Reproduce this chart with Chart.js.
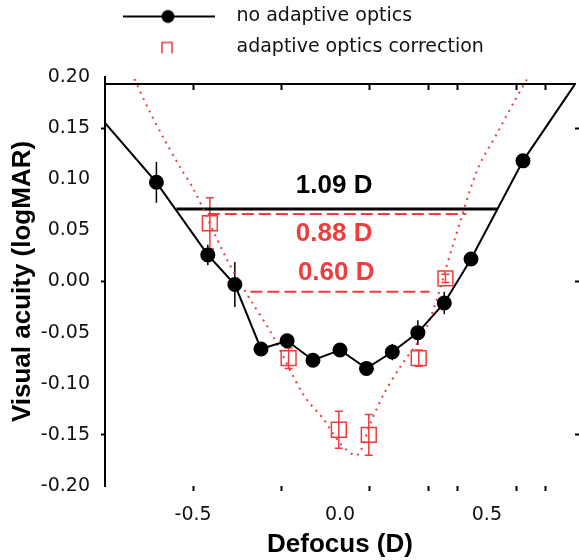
<!DOCTYPE html>
<html>
<head>
<meta charset="utf-8">
<script src="https://cdn.jsdelivr.net/npm/chart.js@4.4.1/dist/chart.umd.min.js"></script>
<style>
  html, body { margin: 0; padding: 0; background: #fff; }
  #wrap { width: 579px; height: 560px; }
</style>
</head>
<body>
<div id="wrap"><canvas id="acuity-chart"></canvas></div>
<script>
// no adaptive optics (line ends have no marker)
const noAoDefocus = [-0.8, -0.625, -0.45, -0.358, -0.269, -0.18, -0.092, 0.0, 0.09, 0.178, 0.265, 0.355, 0.446, 0.623, 0.8];
const noAoAcuity  = [0.155, 0.097, 0.026, -0.003, -0.066, -0.058, -0.077, -0.067, -0.085, -0.069, -0.050, -0.021, 0.022, 0.118, 0.193];
const noAoError   = [0, 0.020, 0.010, 0.022, 0.005, 0.005, 0.005, 0.005, 0.005, 0.008, 0.012, 0.011, 0.005, 0.005, 0];

// adaptive optics correction
const aoDefocus = [-0.443, -0.175, -0.004, 0.098, 0.268, 0.359];
const aoAcuity  = [0.057, -0.075, -0.145, -0.150, -0.075, 0.003];
const aoError   = [0.025, 0.010, 0.018, 0.020, 0.008, 0.004];

// dotted fit through the corrected data
const aoFitDefocus = [-0.70, -0.651, -0.60, -0.543, -0.498, -0.384, -0.305, -0.237, -0.124, -0.055, 0.0, 0.058, 0.103, 0.149, 0.206, 0.296, 0.387, 0.467, 0.535, 0.591, 0.637];
const aoFitAcuity  = [0.198, 0.168, 0.140, 0.111, 0.090, 0.021, -0.018, -0.049, -0.111, -0.135, -0.158, -0.170, -0.139, -0.110, -0.083, -0.044, 0.038, 0.109, 0.145, 0.175, 0.198];

// depth of focus ranges
const rangeLabels = ['1.09 D', '0.88 D', '0.60 D'];
const rangeStart  = [-0.557, -0.45, -0.305];
const rangeEnd    = [0.535, 0.43, 0.305];
const rangeLevel  = [0.071, 0.066, -0.010];
const rangeTextX  = [-0.02, -0.02, -0.013];
const rangeTextY  = [0.094, 0.047, 0.008];

const xTickValues = [-0.5, -0.2, 0, 0.1, 0.3, 0.4, 0.5, 0.6, 0.7];
const xLabelValues = [-0.5, 0, 0.5];
const yMarkValues = [0.15, 0, -0.15];
const topFrameLevel = 0.193;

const RED = '#f03c3c';
const same = (a, b) => Math.abs(a - b) < 1e-6;
const pts = (xs, ys) => xs.map((x, i) => ({ x: x, y: ys[i] }));

function legendIcon(kind) {
    const c = document.createElement('canvas');
    c.width = 110; c.height = 20;
    const g = c.getContext('2d');
    if (kind === 'noao') {
        g.strokeStyle = '#000'; g.lineWidth = 2;
        g.beginPath(); g.moveTo(6, 10); g.lineTo(98, 10); g.stroke();
        g.beginPath(); g.arc(51, 10, 6.5, 0, Math.PI * 2); g.fill();
    } else {
        g.strokeStyle = RED; g.lineWidth = 1.5;
        g.beginPath(); g.moveTo(45, 16); g.lineTo(45, 5); g.lineTo(55, 5); g.lineTo(55, 16); g.stroke();
    }
    return c;
}

const errorBars = {
    id: 'errorBars',
    beforeDatasetsDraw(chart) {
        const ctx = chart.ctx, y = chart.scales.y;
        chart.data.datasets.forEach((ds, i) => {
            if (!ds.errors) return;
            const meta = chart.getDatasetMeta(i);
            ctx.save();
            ctx.strokeStyle = ds.borderColor;
            ctx.lineWidth = 1.5;
            meta.data.forEach((pt, j) => {
                const e = ds.errors[j];
                if (!e) return;
                const top = y.getPixelForValue(ds.data[j].y + e);
                const bot = y.getPixelForValue(ds.data[j].y - e);
                ctx.beginPath();
                ctx.moveTo(pt.x, top); ctx.lineTo(pt.x, bot);
                if (ds.errorCaps) {
                    ctx.moveTo(pt.x - 4, top); ctx.lineTo(pt.x + 4, top);
                    ctx.moveTo(pt.x - 4, bot); ctx.lineTo(pt.x + 4, bot);
                }
                ctx.stroke();
            });
            ctx.restore();
        });
    }
};

const rangeText = {
    id: 'rangeText',
    afterDatasetsDraw(chart) {
        const ctx = chart.ctx, xs = chart.scales.x, ys = chart.scales.y;
        ctx.save();
        ctx.font = 'bold 26px "Liberation Sans", Arial, sans-serif';
        ctx.textAlign = 'center';
        ctx.textBaseline = 'middle';
        rangeLabels.forEach((t, i) => {
            ctx.fillStyle = i === 0 ? '#000' : RED;
            ctx.fillText(t, xs.getPixelForValue(rangeTextX[i]), ys.getPixelForValue(rangeTextY[i]));
        });
        ctx.restore();
    }
};

const legendGap = {
    id: 'legendGap',
    beforeInit(chart) {
        const fit = chart.legend.fit;
        chart.legend.fit = function () { fit.call(this); this.height += 10; };
    }
};

const datasets = [
    {
        label: 'no adaptive optics',
        data: pts(noAoDefocus, noAoAcuity),
        errors: noAoError,
        borderColor: '#000', backgroundColor: '#000', borderWidth: 2,
        pointRadius: noAoDefocus.map((x, i) => (i === 0 || i === noAoDefocus.length - 1) ? 0 : 6.5),
        showLine: true, tension: 0
    },
    {
        label: 'adaptive optics correction',
        data: pts(aoDefocus, aoAcuity),
        errors: aoError, errorCaps: true,
        borderColor: RED, backgroundColor: 'rgba(0,0,0,0)', borderWidth: 1.5,
        pointStyle: 'rect', pointRadius: 10.5, showLine: false
    },
    {
        label: 'fit',
        data: pts(aoFitDefocus, aoFitAcuity),
        borderColor: RED, borderWidth: 2, borderDash: [2, 5],
        pointRadius: 0, showLine: true, tension: 0.3
    }
];
rangeLabels.forEach((t, i) => {
    datasets.push({
        label: t,
        data: [{ x: rangeStart[i], y: rangeLevel[i] }, { x: rangeEnd[i], y: rangeLevel[i] }],
        borderColor: i === 0 ? '#000' : RED,
        borderWidth: i === 0 ? 3 : 2,
        borderDash: i === 0 ? [] : [12, 5],
        pointRadius: 0, showLine: true
    });
});

const tickFont = { family: '"DejaVu Sans", Verdana, sans-serif', size: 19 };
const titleFont = { family: '"Liberation Sans", Arial, sans-serif', size: 26, weight: 'bold' };
const setXTicks = scale => { scale.ticks = xTickValues.map(v => ({ value: v })); };

new Chart(document.getElementById('acuity-chart'), {
    type: 'scatter',
    data: { datasets: datasets },
    plugins: [errorBars, rangeText, legendGap],
    options: {
        responsive: true,
        maintainAspectRatio: false,
        animation: false,
        layout: { autoPadding: false, padding: { top: -5, left: 0, right: 0, bottom: 0 } },
        plugins: {
            tooltip: { enabled: false },
            legend: {
                position: 'top',
                align: 'start',
                fullSize: false,
                labels: {
                    usePointStyle: true,
                    pointStyleWidth: 110,
                    padding: 12,
                    color: '#111',
                    font: tickFont,
                    generateLabels: () => [
                        { text: 'no adaptive optics', pointStyle: legendIcon('noao'), fontColor: '#111', lineWidth: 0, strokeStyle: 'rgba(0,0,0,0)', fillStyle: 'rgba(0,0,0,0)', datasetIndex: 0 },
                        { text: 'adaptive optics correction', pointStyle: legendIcon('ao'), fontColor: '#111', lineWidth: 0, strokeStyle: 'rgba(0,0,0,0)', fillStyle: 'rgba(0,0,0,0)', datasetIndex: 1 }
                    ]
                }
            }
        },
        scales: {
            x: {
                type: 'linear', position: 'bottom', min: -0.8, max: 0.8,
                afterBuildTicks: setXTicks,
                afterFit: s => { s.height = 74; },
                border: { display: false },
                grid: {
                    drawOnChartArea: false, tickLength: 5, tickWidth: 2,
                    tickColor: c => xLabelValues.slice(1).some(v => same(v, c.tick.value)) ? 'rgba(0,0,0,0)' : '#000'
                },
                ticks: {
                    padding: 13, color: '#111', font: tickFont, maxRotation: 0, autoSkip: false,
                    callback: v => xLabelValues.some(l => same(l, v)) ? v.toFixed(1) : ''
                },
                title: { display: true, text: 'Defocus (D)', color: '#000', font: titleFont, padding: { top: 0, bottom: 0 } }
            },
            x2: {
                type: 'linear', axis: 'x', position: { y: topFrameLevel }, min: -0.8, max: 0.8,
                afterBuildTicks: setXTicks,
                border: { display: true, color: '#000', width: 2 },
                grid: {
                    drawOnChartArea: false, tickLength: 5, tickWidth: 2,
                    tickColor: c => xLabelValues.slice(1).some(v => same(v, c.tick.value)) ? 'rgba(0,0,0,0)' : '#000'
                },
                ticks: { display: false }
            },
            y: {
                type: 'linear', position: 'left', min: -0.2, max: 0.2,
                afterFit: s => { s.width = 105; },
                border: { display: true, color: '#000', width: 2 },
                grid: {
                    drawOnChartArea: false, tickLength: 4, tickWidth: 2,
                    tickColor: c => yMarkValues.some(v => same(v, c.tick.value)) ? '#000' : 'rgba(0,0,0,0)'
                },
                ticks: { stepSize: 0.05, padding: 11, color: '#111', font: tickFont, callback: v => v.toFixed(2) },
                title: { display: true, text: 'Visual acuity (logMAR)', color: '#000', font: titleFont, padding: { top: 7, bottom: 0 } }
            },
            y2: {
                type: 'linear', position: 'right', min: -0.2, max: 0.2,
                afterFit: s => { s.width = 4; },
                border: { display: false },
                grid: {
                    drawOnChartArea: false, tickLength: 4, tickWidth: 2,
                    tickColor: c => yMarkValues.some(v => same(v, c.tick.value)) ? '#000' : 'rgba(0,0,0,0)'
                },
                ticks: { display: false, stepSize: 0.05 }
            }
        }
    }
});
</script>
</body>
</html>
